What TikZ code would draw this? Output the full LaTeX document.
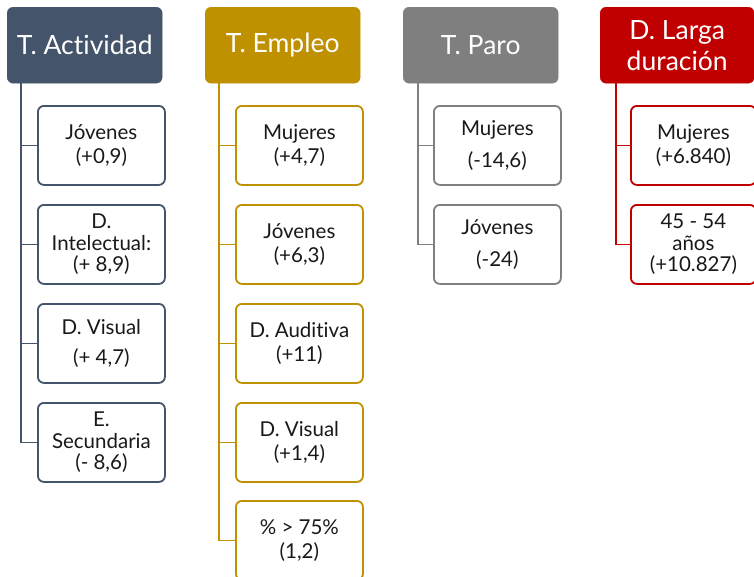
\documentclass[tikz,border=0pt]{standalone}
\usepackage{fontspec}
\setmainfont{Lato}[Ligatures=NoCommon]
\definecolor{cact}{HTML}{44546A}
\definecolor{cemp}{HTML}{BF9000}
\definecolor{cpar}{HTML}{7F7F7F}
\definecolor{clar}{HTML}{C00000}
\begin{document}
\begin{tikzpicture}[x=1pt,y=-1pt,
  head/.style={draw=#1,fill=#1,rounded corners=6pt,minimum width=155pt,minimum height=76pt,
    text=white,font=\fontsize{26.5}{28}\selectfont,align=center,inner sep=0pt,anchor=north west},
  child/.style={draw=#1,line width=1.8pt,fill=white,rounded corners=6pt,minimum width=127pt,minimum height=79pt,
    font=\fontsize{20.5}{23.5}\selectfont,align=center,inner sep=0pt,anchor=north west,text=black!90},
  link/.style={draw=#1,line width=1.8pt}]
\useasboundingbox (0,0) rectangle (754,576);
% headers
\node[head=cact] (h1) at (7,7) {T. Actividad};
\node[head=cemp] (h2) at (205,7) {T. Empleo};
\node[head=cpar] (h3) at (403,7) {T. Paro};
\node[head=clar,minimum width=154pt] (h4) at (600,7) {D. Larga\\[3pt]duración};
% actividad children
\node[child=cact] (a1) at (37,105) {Jóvenes\\(+0,9)};
\node[child=cact] (a2) at (37,204) {D.\\[-2pt]Intelectual:\\[-2pt](+ 8,9)};
\node[child=cact] (a3) at (37,303) {D. Visual\\[6pt](+ 4,7)};
\node[child=cact] (a4) at (37,402) {E.\\[-2pt]Secundaria\\[-2pt](- 8,6)};
% empleo children
\node[child=cemp] (e1) at (235,105) {Mujeres\\(+4,7)};
\node[child=cemp] (e2) at (235,204) {Jóvenes\\(+6,3)};
\node[child=cemp] (e3) at (235,303) {D. Auditiva\\(+11)};
\node[child=cemp] (e4) at (235,402) {D. Visual\\(+1,4)};
\node[child=cemp] (e5) at (235,500) {\% > 75\%\\(1,2)};
% paro children
\node[child=cpar] (p1) at (433,105) {Mujeres\\[8pt](-14,6)};
\node[child=cpar] (p2) at (433,204) {Jóvenes\\[8pt](-24)};
% larga children
\node[child=clar,minimum width=125pt] (l1) at (630,105) {Mujeres\\(+6.840)};
\node[child=clar,minimum width=125pt] (l2) at (630,204) {45 - 54\\[-2pt]años\\[-2pt](+10.827)};
% connectors
\coordinate (v1) at ([xshift=14pt]h1.south west);
\coordinate (v2) at ([xshift=14pt]h2.south west);
\coordinate (v3) at ([xshift=15pt]h3.south west);
\coordinate (v4) at ([xshift=16pt]h4.south west);
\foreach \c in {a1,a2,a3,a4} \draw[link=cact] (v1) |- (\c.west);
\foreach \c in {e1,e2,e3,e4,e5} \draw[link=cemp] (v2) |- (\c.west);
\foreach \c in {p1,p2} \draw[link=cpar] (v3) |- (\c.west);
\foreach \c in {l1,l2} \draw[link=clar] (v4) |- (\c.west);
\end{tikzpicture}
\end{document}
